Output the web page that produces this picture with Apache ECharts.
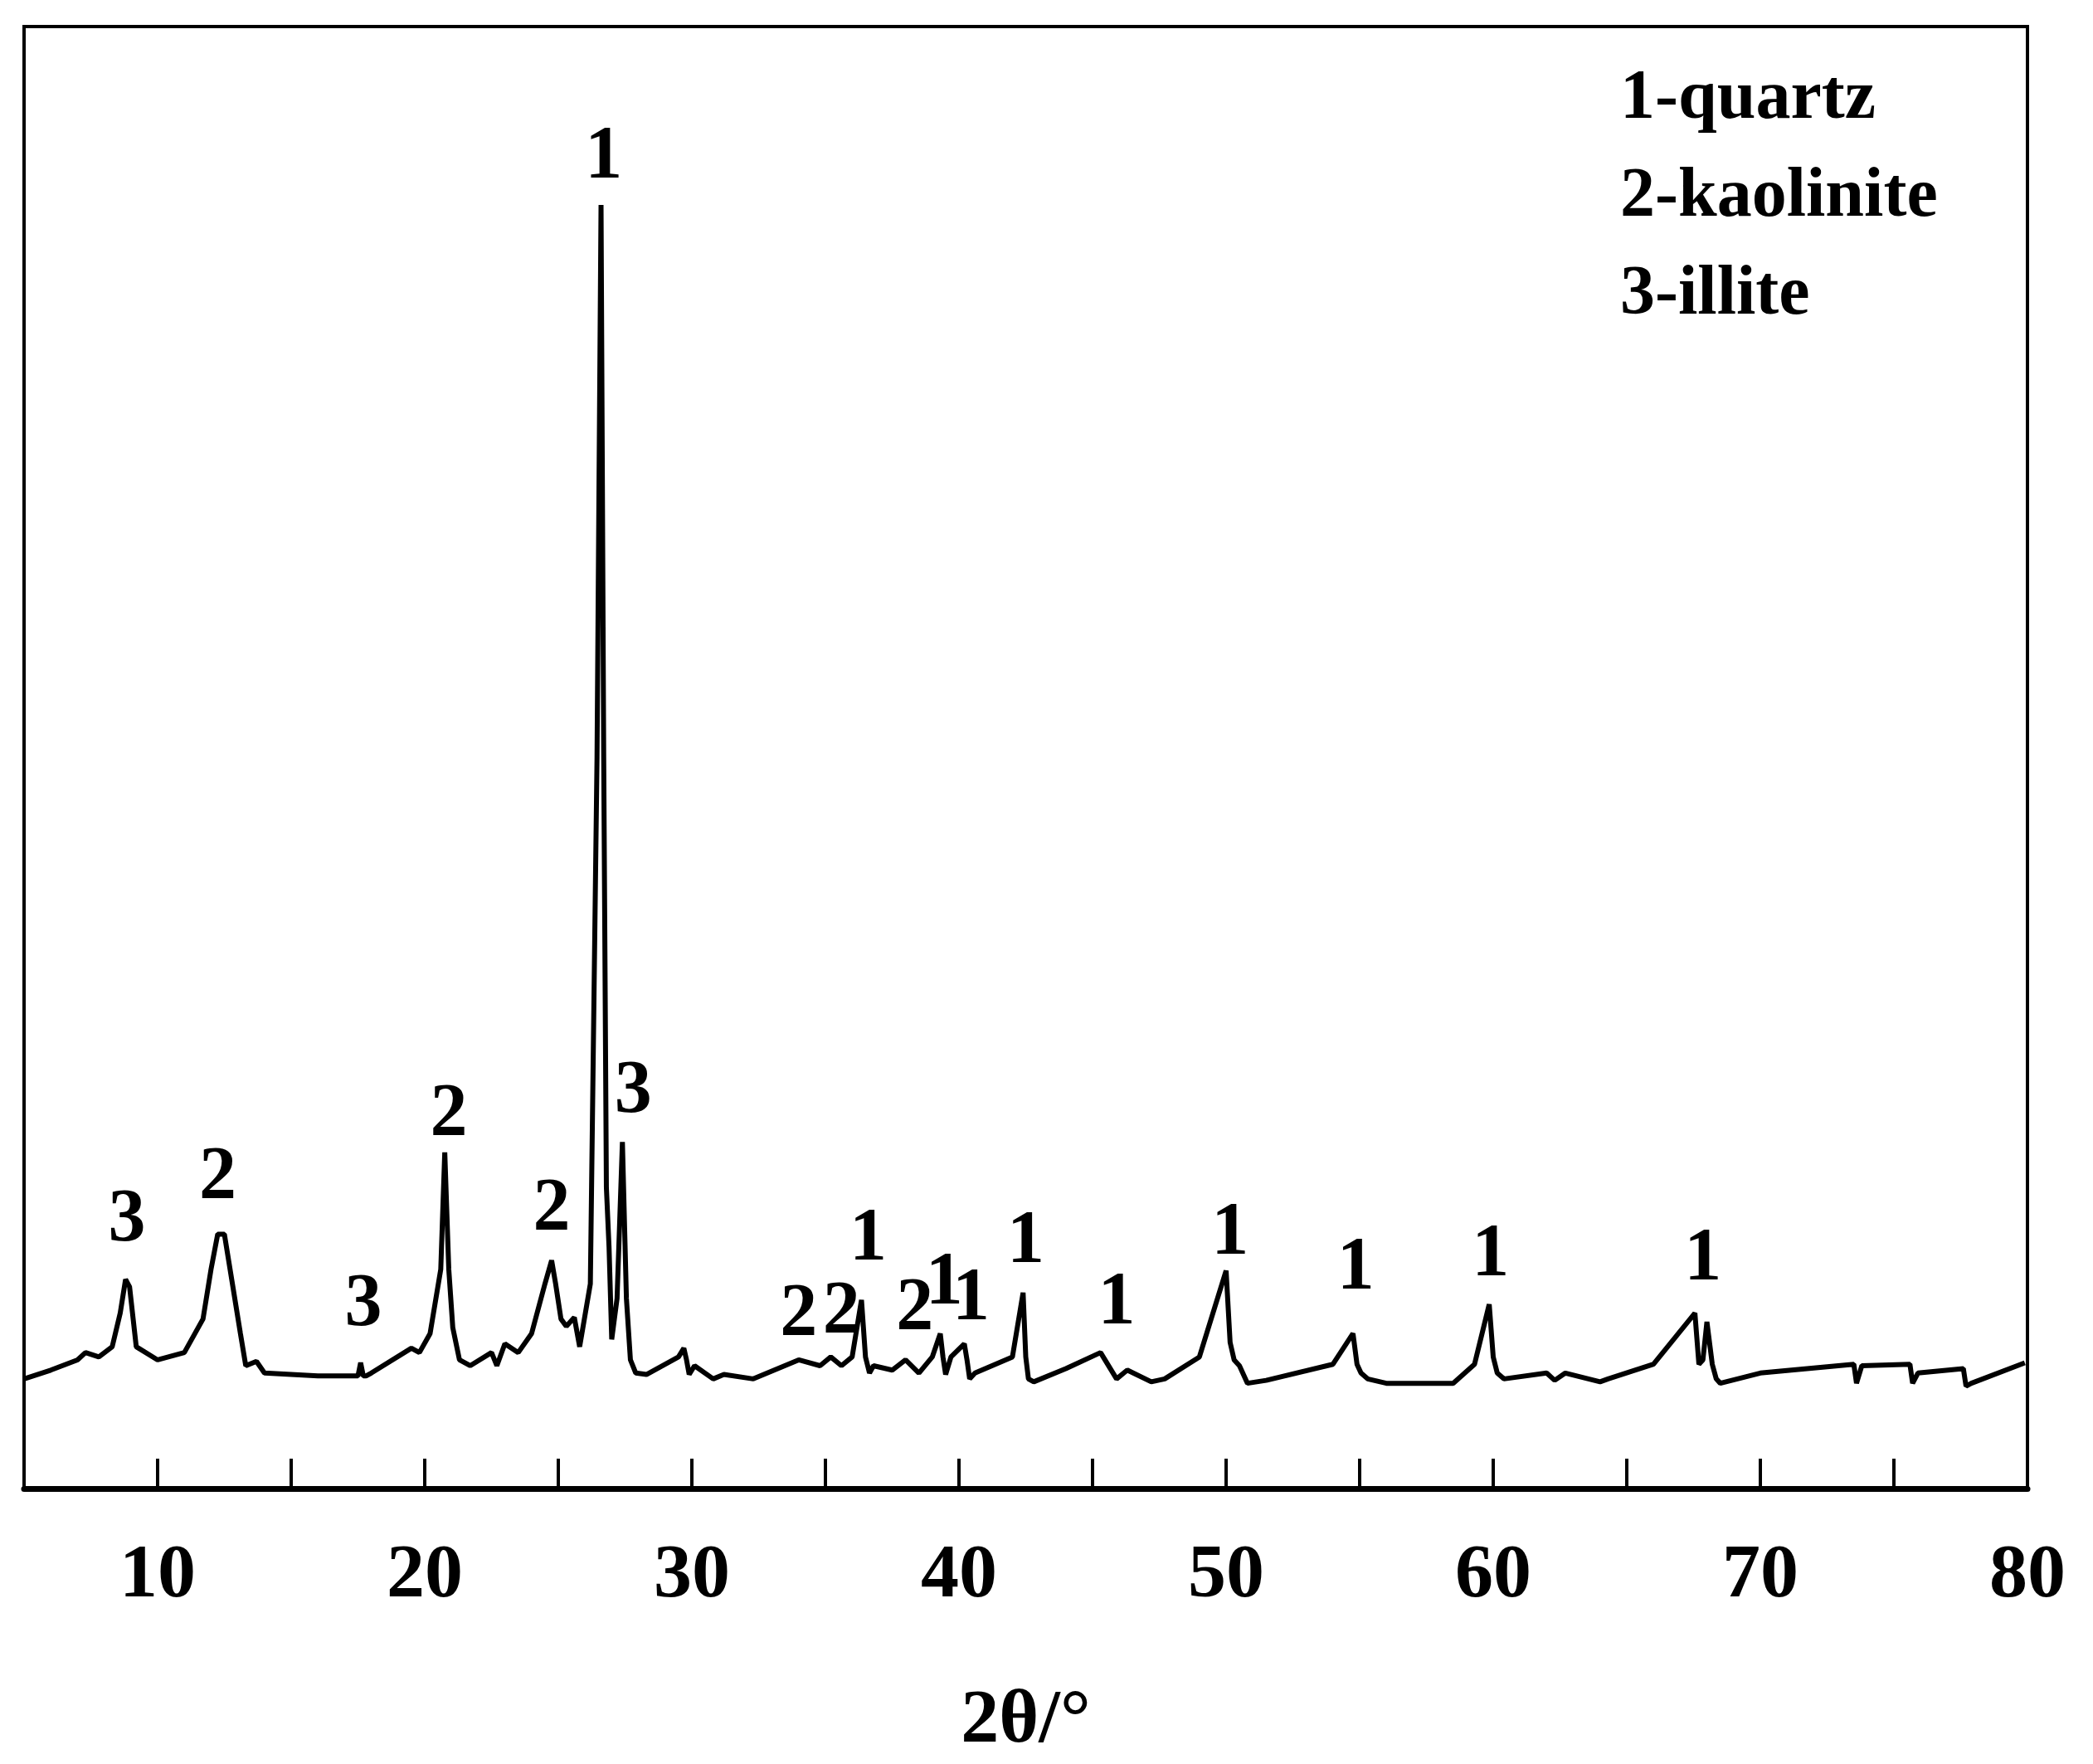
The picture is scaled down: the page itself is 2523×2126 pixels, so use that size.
<!DOCTYPE html>
<html><head><meta charset="utf-8">
<script src="https://cdn.jsdelivr.net/npm/echarts@6/dist/echarts.min.js"></script>
<style>html,body{margin:0;padding:0;background:#fff}#c{width:2523px;height:2126px}</style>
</head><body><div id="c"></div>
<script>
const twoTheta=[5,6,7,7.3,7.8,8.3,8.6,8.8,8.95,9.2,10,11,11.7,12.0,12.25,12.5,12.8,13.1,13.3,13.7,14,16,17.5,17.6,17.7,17.8,18,19.5,19.8,20.2,20.6,20.75,20.9,21.05,21.3,21.7,22.5,22.7,23,23.5,24,24.5,24.75,24.9,25.1,25.3,25.6,25.8,26.2,26.45,26.6,26.7,26.8,26.9,27.0,27.2,27.4,27.55,27.7,27.9,28.3,29.5,29.7,29.8,29.9,30.1,30.8,31.2,32.3,34,34.8,35.2,35.6,36,36.35,36.5,36.65,36.8,37.5,38,38.5,39,39.3,39.4,39.5,39.7,40.2,40.3,40.4,40.6,42,42.4,42.5,42.6,42.8,44,45.3,45.9,46.3,47.2,47.7,49,50.0,50.15,50.3,50.5,50.8,51.5,54,54.75,54.9,55.05,55.3,56,58.5,59.3,59.85,60.0,60.15,60.4,62,62.3,62.7,64,64.3,66,67.55,67.7,67.85,68.0,68.2,68.35,68.5,70,73.5,73.6,73.8,75.6,75.7,75.9,77.6,77.7,77.9,79.9,80];
const intensity=[75,81,88,93,90,97,120,143,138,97,88,93,116,150,174,174,140,106,84,87,79,77,77,86,77,77,79,96,93,106,150,230,150,110,88,84,93,84,99,93,106,140,156,140,116,111,117,97,140,500,878,500,206,165,102,130,237,130,88,79,78,90,96,88,78,84,75,78,75,88,84,90,84,90,129,90,79,84,81,88,79,90,106,90,78,90,99,88,75,79,90,134,90,75,73,82,93,75,81,73,75,90,149,100,88,84,72,74,85,106,85,79,75,72,72,85,126,90,79,75,79,74,79,73,75,85,120,85,88,114,85,75,72,79,85,72,84,85,72,79,82,70,72,86];
const labelText=['3','2','3','2','2','1','3','2','2','1','2','1','1','1','1','1','1','1','1'];
const labelX=[8.85,12.25,17.7,20.9,24.75,26.7,27.8,34,35.6,36.6,38.35,39.45,40.45,42.5,45.9,50.15,54.85,59.9,67.85];
const labelY=[183,212,125,255,190,910,271,118,120,170,122,140,129,168,126,174,150,159,156];
const legendLines=['1-quartz','2-kaolinite','3-illite'];
const xTicks=[10,20,30,40,50,60,70,80];

const font='"Liberation Serif","Times New Roman",serif';
const chart=echarts.init(document.getElementById('c'));
chart.setOption({
  animation:false,
  grid:{left:29,right:79,top:32,bottom:302,show:true,borderColor:'#000',borderWidth:4},
  xAxis:{type:'value',min:5,max:80,interval:5,name:'2θ/°',nameLocation:'middle',nameGap:235,
    nameTextStyle:{fontFamily:font,fontWeight:'bold',fontSize:92,color:'#000'},
    axisLine:{lineStyle:{color:'#000',width:7}},
    axisTick:{inside:true,length:36,lineStyle:{color:'#000',width:4}},
    splitLine:{show:false},
    axisLabel:{margin:60,fontFamily:font,fontWeight:'bold',fontSize:92,color:'#000',
      formatter:v=>xTicks.includes(v)?String(v):''}},
  yAxis:{type:'value',min:0,max:1000,show:false,splitLine:{show:false}},
  series:[
    {type:'line',data:twoTheta.map((x,i)=>[x,intensity[i]]),showSymbol:false,
     lineStyle:{color:'#000',width:6},z:3},
    {type:'scatter',symbolSize:1,itemStyle:{opacity:0},data:labelX.map((x,i)=>({value:[x,labelY[i]],name:labelText[i]})),
     label:{show:true,position:'inside',formatter:p=>p.name,fontFamily:font,fontWeight:'bold',fontSize:90,color:'#000',opacity:1}}
  ],
  graphic:legendLines.map((t,i)=>({type:'text',left:1953,top:78+i*118,
    style:{text:t,fontFamily:font,fontWeight:'bold',fontSize:84,fill:'#000'}}))
});
</script></body></html>
